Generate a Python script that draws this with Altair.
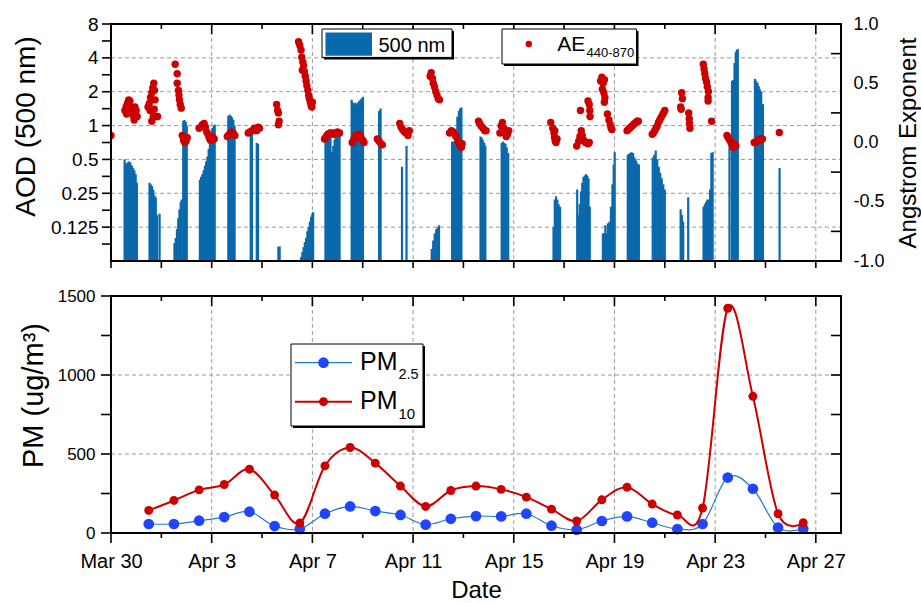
import altair as alt
import pandas as pd

FONT = "Arial"
BAR_BLUE = "#0a69ab"
RED = "#cc0000"
PT_BLUE = "#1f45ff"
LINE_BLUE = "#1f7cc0"
GRID = "#9a9a9a"

W, H = 730, 237

# ---------------- axis ticks / labels ----------------
x_major = [0, 4, 8, 12, 16, 20, 24, 28]
x_labels = ["Mar 30", "Apr 3", "Apr 7", "Apr 11", "Apr 15", "Apr 19", "Apr 23", "Apr 27"]
x_minor = [2, 6, 10, 14, 18, 22, 26]

aod_major = [0.125, 0.25, 0.5, 1, 2, 4, 8]
aod_minor = [0.0884, 0.1768, 0.3536, 0.7071, 1.4142, 2.8284, 5.6569]
ae_major = [-1.0, -0.5, 0.0, 0.5, 1.0]
ae_labels = ["-1.0", "-0.5", "0.0", "0.5", "1.0"]
ae_minor = [-0.75, -0.25, 0.25, 0.75]
pm_major = [0, 500, 1000, 1500]
pm_minor = [250, 750, 1250]

# ---------------- AOD 500 nm (days after Mar 30 00:00) ----------------
aod_day = [
    0.54, 0.60, 0.66, 0.71, 0.77, 0.83, 0.88, 0.93, 0.98, 1.03,
    1.53, 1.58, 1.63, 1.68, 1.73, 1.78, 1.83, 1.93,
    2.52, 2.57, 2.62, 2.67, 2.72, 2.77, 2.81, 2.87, 2.92, 2.97, 3.01,
    3.53, 3.58, 3.63, 3.68, 3.73, 3.78, 3.83, 3.88, 3.93, 3.98, 4.03, 4.08, 4.12,
    4.66, 4.71, 4.76, 4.81, 4.86, 4.91,
    5.55, 5.60, 5.79, 5.84,
    6.65, 6.70,
    7.55, 7.60, 7.65, 7.70, 7.75, 7.80, 7.85, 7.90, 7.95, 8.00, 8.03,
    8.52, 8.57, 8.62, 8.67, 8.72, 8.78, 8.83, 8.88, 8.93, 8.98, 9.03, 9.08,
    9.56, 9.61, 9.66, 9.71, 9.76, 9.81, 9.86, 9.91, 9.96, 10.01,
    10.65, 10.71,
    11.56, 11.74,
    12.74, 12.80, 12.86, 12.92, 12.98, 13.03,
    13.55, 13.60, 13.65, 13.70, 13.76, 13.82, 13.87, 13.92,
    14.68, 14.73, 14.78, 14.83, 14.87,
    15.52, 15.57, 15.62, 15.67, 15.72, 15.78,
    17.58, 17.63, 17.68, 17.73, 17.78, 17.84,
    18.52, 18.57, 18.62, 18.67, 18.72, 18.77, 18.82, 18.87, 18.92, 18.97, 19.02,
    19.54, 19.59, 19.64, 19.69, 19.74, 19.80, 19.86, 19.92, 19.97, 20.01,
    20.53, 20.58, 20.63, 20.68, 20.74, 20.80, 20.86, 20.92, 20.97,
    21.52, 21.58, 21.64, 21.70, 21.76, 21.82, 21.88, 21.94, 22.00,
    22.63, 22.68, 22.73, 22.93,
    23.54, 23.59, 23.64, 23.69, 23.74, 23.80, 23.85, 23.90,
    24.57, 24.67, 24.72, 24.77, 24.82, 24.86, 24.90,
    25.58, 25.63, 25.68, 25.73, 25.78, 25.83, 25.90,
    26.56,
]
aod_value = [
    0.50, 0.46, 0.47, 0.48, 0.47, 0.44, 0.42, 0.40, 0.37, 0.31,
    0.31, 0.30, 0.29, 0.27, 0.24, 0.23, 0.16, 0.165,
    0.09, 0.10, 0.12, 0.15, 0.18, 0.21, 0.22, 1.10, 1.12, 1.08, 1.00,
    0.33, 0.35, 0.37, 0.40, 0.44, 0.48, 0.53, 0.62, 0.72, 0.85, 0.95, 1.00, 1.02,
    1.22, 1.25, 1.22, 1.18, 1.12, 1.00,
    0.90, 0.88, 0.70, 0.69,
    0.084, 0.084,
    0.068, 0.075, 0.083, 0.092, 0.100, 0.115, 0.125, 0.140, 0.155, 0.165, 0.170,
    0.87, 0.87, 0.88, 0.88, 0.86, 0.58, 0.66, 0.75, 0.82, 0.86, 0.87, 0.87,
    1.70, 1.60, 1.55, 1.60, 1.55, 1.60, 1.65, 1.70, 1.75, 1.80,
    1.35, 1.42,
    0.43, 0.66,
    0.080, 0.095, 0.110, 0.120, 0.125, 0.130,
    0.72, 0.72, 0.72, 0.74, 1.20, 1.35, 1.42, 1.45,
    0.80, 0.78, 0.74, 0.70, 0.66,
    0.70, 0.72, 0.70, 0.69, 0.64, 0.57,
    0.125, 0.22, 0.235, 0.22, 0.20, 0.19,
    0.27, 0.16, 0.20, 0.26, 0.31, 0.35, 0.36, 0.37, 0.36, 0.34, 0.19,
    0.11, 0.11, 0.13, 0.11, 0.135, 0.14, 0.19, 0.30, 0.45, 0.58,
    0.55, 0.56, 0.57, 0.58, 0.57, 0.52, 0.49, 0.46, 0.45,
    0.52, 0.55, 0.60, 0.50, 0.43, 0.38, 0.34, 0.30, 0.27,
    0.18, 0.16, 0.14, 0.23,
    0.19, 0.20, 0.21, 0.22, 0.22, 0.27, 0.57, 0.58,
    0.78, 2.50, 2.55, 3.60, 4.50, 4.70, 4.80,
    2.60, 2.50, 2.40, 2.25, 2.10, 2.00, 1.55,
    0.42,
]

# ---------------- Angstrom exponent 440-870 ----------------
ae_day = [
    0.00,
    0.55, 0.60, 0.65, 0.70, 0.75, 0.80, 0.85, 0.90, 0.95, 1.00, 1.04, 0.62, 0.68, 0.92,
    1.47, 1.52, 1.57, 1.62, 1.66, 1.70, 1.73, 1.75, 1.62, 1.68, 1.80, 1.85, 1.55, 1.72,
    2.55, 2.63, 2.63, 2.68, 2.70, 2.72, 2.75, 2.79,
    2.83, 2.88, 2.93, 2.98, 3.03,
    3.50, 3.57, 3.63, 3.70, 3.75, 3.80, 3.85, 3.90, 3.95, 4.00, 4.05, 4.10,
    4.62, 4.70, 4.78, 4.85, 4.92,
    5.45, 5.52, 5.60, 5.70, 5.78, 5.85, 5.90,
    6.58, 6.62, 6.65, 6.68, 6.65,
    7.45, 7.50, 7.55, 7.58, 7.62, 7.65, 7.68, 7.72, 7.75, 7.78, 7.82, 7.85, 7.88, 7.92, 7.95, 7.98, 8.00, 7.60,
    8.48, 8.55, 8.62, 8.70, 8.78, 8.85, 8.92, 9.00, 9.08,
    9.58, 9.65, 9.72, 9.80, 9.85, 9.92, 10.00, 10.05,
    10.58, 10.65, 10.72, 10.78,
    11.47, 11.52, 11.58, 11.65, 11.72, 11.80, 11.85,
    12.68, 12.72, 12.77, 12.80, 12.85, 12.90, 12.95, 13.00, 13.05,
    13.45, 13.52, 13.60, 13.70, 13.78, 13.85, 13.92, 13.95,
    14.60, 14.65, 14.70, 14.78, 14.85, 14.90,
    15.45, 15.50, 15.55, 15.60, 15.65, 15.70, 15.75, 15.80,
    17.47, 17.55, 17.60, 17.62, 17.65, 17.68, 17.72, 17.63,
    18.65, 18.95, 19.00, 19.02, 19.03, 18.50, 18.58, 18.63, 18.68, 18.72, 18.78, 18.85, 18.95, 19.00,
    19.45, 19.50, 19.55, 19.60, 19.52, 19.58, 19.62, 19.60, 19.72, 19.78, 19.83, 19.87, 19.90,
    20.50, 20.55, 20.60, 20.65, 20.70, 20.75, 20.80, 20.85, 20.90, 20.95,
    21.50, 21.55, 21.60, 21.65, 21.70, 21.75, 21.80, 21.85, 21.90, 21.95, 22.00,
    22.67, 22.70, 22.63, 22.65, 22.95, 22.97, 22.98, 23.00,
    23.53, 23.56, 23.59, 23.62, 23.66, 23.69, 23.73, 23.72, 23.72, 23.86,
    24.47, 24.52, 24.58, 24.63, 24.68, 24.72, 24.77, 24.82,
    25.55, 25.60, 25.65, 25.70, 25.75, 25.80, 25.88,
    26.55,
]
ae_value = [
    0.06,
    0.27, 0.30, 0.33, 0.36, 0.35, 0.30, 0.26, 0.22, 0.30, 0.27, 0.22, 0.24, 0.28, 0.19,
    0.30, 0.33, 0.38, 0.42, 0.46, 0.50, 0.44, 0.36, 0.18, 0.22, 0.22, 0.22, 0.27, 0.28,
    0.66, 0.58, 0.50, 0.44, 0.40, 0.36, 0.32, 0.29,
    0.06, 0.02, 0.00, 0.01, 0.04,
    0.12, 0.13, 0.15, 0.16, 0.13, 0.09, 0.07, 0.04, 0.02, 0.05, 0.04, 0.03,
    0.05, 0.07, 0.09, 0.08, 0.06,
    0.08, 0.09, 0.10, 0.12, 0.10, 0.13, 0.12,
    0.32, 0.27, 0.25, 0.18, 0.15,
    0.85, 0.82, 0.78, 0.72, 0.68, 0.65, 0.60, 0.56, 0.52, 0.48, 0.44, 0.40, 0.37, 0.34, 0.31, 0.30, 0.34, 0.61,
    0.03, 0.05, 0.07, 0.08, 0.08, 0.07, 0.08, 0.09, 0.08,
    0.00, 0.03, 0.06, 0.04, 0.07, 0.05, 0.02, 0.00,
    0.03, 0.01, -0.01, -0.02,
    0.16, 0.13, 0.11, 0.09, 0.08, 0.06, 0.10,
    0.56, 0.59, 0.54, 0.50, 0.47, 0.43, 0.40, 0.37, 0.36,
    0.08, 0.10, 0.09, 0.05, 0.01, -0.02, -0.04, -0.01,
    0.18, 0.16, 0.14, 0.12, 0.10, 0.10,
    0.08, 0.14, 0.17, 0.12, 0.08, 0.05, 0.07, 0.10,
    0.17, 0.12, 0.08, 0.04, 0.01, 0.00, 0.03, 0.10,
    0.27, 0.35, 0.32, 0.27, 0.22, -0.03, 0.01, 0.05, 0.10, 0.06, 0.02, 0.00, -0.01, 0.00,
    0.52, 0.55, 0.50, 0.53, 0.45, 0.42, 0.38, 0.34, 0.24, 0.19, 0.15, 0.12, 0.11,
    0.10, 0.11, 0.12, 0.13, 0.14, 0.15, 0.16, 0.17, 0.18, 0.18,
    0.07, 0.08, 0.10, 0.12, 0.14, 0.17, 0.19, 0.21, 0.23, 0.25, 0.27,
    0.42, 0.37, 0.30, 0.28, 0.25, 0.20, 0.16, 0.12,
    0.66, 0.62, 0.58, 0.54, 0.51, 0.47, 0.43, 0.38, 0.35, 0.18,
    0.06, 0.04, 0.02, 0.00, -0.02, -0.04, -0.01, -0.03,
    0.00, 0.00, 0.01, 0.02, 0.02, 0.03, 0.03,
    0.085,
]

# ---------------- PM daily means (noon of each day) ----------------
pm_day = [1.5, 2.5, 3.5, 4.5, 5.5, 6.5, 7.5, 8.5, 9.5, 10.5, 11.5, 12.5, 13.5, 14.5,
          15.5, 16.5, 17.5, 18.5, 19.5, 20.5, 21.5, 22.5, 23.5, 24.5, 25.5, 26.5, 27.5]
pm25 = [57, 57, 78, 101, 135, 44, 25, 122, 168, 139, 114, 53, 90, 107,
        105, 122, 46, 21, 76, 105, 65, 25, 57, 351, 280, 34, 27]
pm10 = [143, 206, 273, 307, 404, 240, 63, 425, 541, 442, 297, 168, 269, 297,
        276, 227, 151, 76, 210, 290, 183, 114, 158, 1422, 865, 122, 65]

# ---------------- scales ----------------
xscale = alt.Scale(domain=[0, 29], nice=False, zero=False)
aod_scale = alt.Scale(type="log", base=2, domain=[0.0625, 8], nice=False)
ae_scale = alt.Scale(domain=[-1, 1], nice=False, zero=False)
pm_scale = alt.Scale(domain=[0, 1500], nice=False, zero=False)


def col(name, vals):
    return pd.DataFrame({name: vals})


one = pd.DataFrame({"k": [0]})

label_common = dict(ticks=False, tickSize=0, domain=False, grid=False,
                    labelFont=FONT, labelColor="black", labelOverlap=False,
                    titleFont=FONT, titleColor="black", titleFontWeight="normal")

aod_axis = alt.Axis(values=aod_major, labelExpr="'' + datum.value",
                    labelFontSize=19, labelPadding=13,
                    title="AOD (500 nm)", titleFontSize=28, titleAngle=-90,
                    titleX=-77, titleY=102, titleBaseline="alphabetic", titleAlign="center",
                    **label_common)
ae_expr = "[" + ",".join("'%s'" % s for s in ae_labels) + "][round((datum.value + 1) * 2)]"
ae_axis = alt.Axis(orient="right", values=ae_major, labelExpr=ae_expr,
                   labelFontSize=18, labelPadding=12,
                   title="Angstrom Exponent", titleFontSize=24, titleAngle=-90,
                   titleX=74, titleY=H / 2, titleBaseline="alphabetic", titleAlign="center",
                   **label_common)
x_expr = "[" + ",".join("'%s'" % s for s in x_labels) + "][round(datum.value / 4)]"
x_axis = alt.Axis(values=x_major, labelExpr=x_expr, labelFontSize=20, labelFlush=False,
                  labelBaseline="alphabetic", labelPadding=34,
                  title="Date", titleFontSize=24, titleY=64, titleBaseline="alphabetic",
                  **label_common)
pm_axis = alt.Axis(values=pm_major, format="d", labelFontSize=17, labelPadding=16,
                   title="PM (ug/m³)", titleFontSize=29, titleAngle=-90,
                   titleX=-69, titleY=99, titleBaseline="alphabetic", titleAlign="center",
                   **label_common)

X_top = alt.X("day:Q", scale=xscale, axis=None)
Y_aod = alt.Y("aod:Q", scale=aod_scale, axis=aod_axis)
Y_ae = alt.Y("ae:Q", scale=ae_scale, axis=ae_axis)
X_bot = alt.X("day:Q", scale=xscale, axis=x_axis)
Y_pm = alt.Y("pm:Q", scale=pm_scale, axis=pm_axis)


def hgrid(df, Y):
    return alt.Chart(df).mark_rule(color=GRID, strokeDash=[4, 3], strokeWidth=1).encode(
        y=Y, x=alt.value(0), x2=alt.value(W))


def vgrid(df, X):
    return alt.Chart(df).mark_rule(color=GRID, strokeDash=[4, 3], strokeWidth=1).encode(
        x=X, y=alt.value(0), y2=alt.value(H))


def hticks(df, Y, x0, x1):
    return alt.Chart(df).mark_rule(color="black", strokeWidth=1.6).encode(
        y=Y, x=alt.value(x0), x2=alt.value(x1))


def vticks(df, X, y0, y1):
    return alt.Chart(df).mark_rule(color="black", strokeWidth=1.6).encode(
        x=X, y=alt.value(y0), y2=alt.value(y1))


def box(x0, x1, y0, y1):
    shadow = alt.Chart(one).mark_rect(color="black").encode(
        x=alt.value(x0 + 2), x2=alt.value(x1 + 2), y=alt.value(y0 + 2), y2=alt.value(y1 + 2))
    face = alt.Chart(one).mark_rect(fill="white", stroke="black", strokeWidth=1).encode(
        x=alt.value(x0), x2=alt.value(x1), y=alt.value(y0), y2=alt.value(y1))
    return [shadow, face]


def label(text, x, y, size):
    return alt.Chart(one).mark_text(text=text, font=FONT, fontSize=size, align="left",
                                    baseline="alphabetic", color="black").encode(
        x=alt.value(x), y=alt.value(y))


def frame():
    return alt.Chart(one).mark_rect(fillOpacity=0, stroke="black", strokeWidth=2).encode(
        x=alt.value(0), x2=alt.value(W), y=alt.value(0), y2=alt.value(H))


# ---------------- top panel ----------------
aod_df = pd.DataFrame({"day": aod_day, "aod": aod_value})
ae_df = pd.DataFrame({"day": ae_day, "ae": ae_value})

bars = alt.Chart(aod_df).mark_rule(color=BAR_BLUE, strokeWidth=2.2).encode(
    x=X_top, y=Y_aod, y2=alt.datum(0.0625))

aod_layer = alt.layer(
    hgrid(col("aod", aod_major[:-1]), Y_aod),
    vgrid(col("day", x_major[1:]), X_top),
    hticks(col("aod", aod_major + aod_minor), Y_aod, -9, 0),
    vticks(col("day", x_major + x_minor), X_top, H, H + 7),
    vticks(col("day", x_major), X_top, 0, 10),
    vticks(col("day", x_minor), X_top, 0, 5),
    bars,
)

points = alt.Chart(ae_df).mark_circle(color=RED, size=55, opacity=1, clip=True).encode(
    x=X_top, y=Y_ae)
ae_layer = alt.layer(
    hticks(col("ae", ae_minor), Y_ae, W - 10, W),
    points,
)

leg_top = box(211, 341, 5, 33.4) + [
    alt.Chart(one).mark_rect(color=BAR_BLUE).encode(
        x=alt.value(214.5), x2=alt.value(261), y=alt.value(8.4), y2=alt.value(31.7)),
    label("500 nm", 267.5, 28.4, 20),
] + box(391, 525.5, 5, 40) + [
    alt.Chart(one).mark_circle(color=RED, size=42, opacity=1).encode(
        x=alt.value(417.8), y=alt.value(20)),
    label("AE", 446.2, 26.7, 21),
    label("440-870", 475.5, 33.4, 13),
]

top = alt.layer(aod_layer, ae_layer, *leg_top, frame()).resolve_scale(
    y="independent").properties(width=W, height=H)

# ---------------- bottom panel ----------------
df25 = pd.DataFrame({"day": pm_day, "pm": pm25})
df10 = pd.DataFrame({"day": pm_day, "pm": pm10})

line25 = alt.Chart(df25).mark_line(color=LINE_BLUE, strokeWidth=1.2, interpolate="cardinal",
                                   tension=0).encode(x=X_bot, y=Y_pm)
pts25 = alt.Chart(df25).mark_circle(color=PT_BLUE, size=115, opacity=1).encode(x=X_bot, y=Y_pm)
line10 = alt.Chart(df10).mark_line(color=RED, strokeWidth=2, interpolate="cardinal",
                                   tension=0).encode(x=X_bot, y=Y_pm)
pts10 = alt.Chart(df10).mark_circle(color=RED, size=80, opacity=1).encode(x=X_bot, y=Y_pm)

leg_bot = box(180, 312, 48, 130) + [
    alt.Chart(one).mark_rule(color=LINE_BLUE, strokeWidth=1.2).encode(
        x=alt.value(184), x2=alt.value(241), y=alt.value(66.7)),
    alt.Chart(one).mark_circle(color=PT_BLUE, size=115, opacity=1).encode(
        x=alt.value(212.5), y=alt.value(66.7)),
    label("PM", 249, 74, 25),
    label("2.5", 287.5, 83, 14.5),
    alt.Chart(one).mark_rule(color=RED, strokeWidth=2).encode(
        x=alt.value(184), x2=alt.value(241), y=alt.value(105.7)),
    alt.Chart(one).mark_circle(color=RED, size=80, opacity=1).encode(
        x=alt.value(212.5), y=alt.value(105.7)),
    label("PM", 249, 113.3, 25),
    label("10", 287.5, 123.3, 15),
]

bottom = alt.layer(
    hgrid(col("pm", [500, 1000]), Y_pm),
    vgrid(col("day", x_major[1:]), X_bot),
    hticks(col("pm", pm_major + pm_minor), Y_pm, -10, 0),
    hticks(col("pm", pm_minor + [500, 1000]), Y_pm, W - 10, W),
    vticks(col("day", x_major), X_bot, H, H + 10),
    vticks(col("day", x_minor), X_bot, H, H + 5),
    vticks(col("day", x_major), X_bot, 0, 10),
    vticks(col("day", x_minor), X_bot, 0, 5),
    line25, pts25, line10, pts10,
    *leg_bot,
    frame(),
).properties(width=W, height=H)

chart = alt.vconcat(top, bottom, spacing=15).properties(
    padding={"left": 11, "top": 14, "right": 0, "bottom": 0},
    background="white",
).configure(font=FONT).configure_view(stroke="transparent")

chart.save("out.html", embed_options={"renderer": "svg", "actions": False})
